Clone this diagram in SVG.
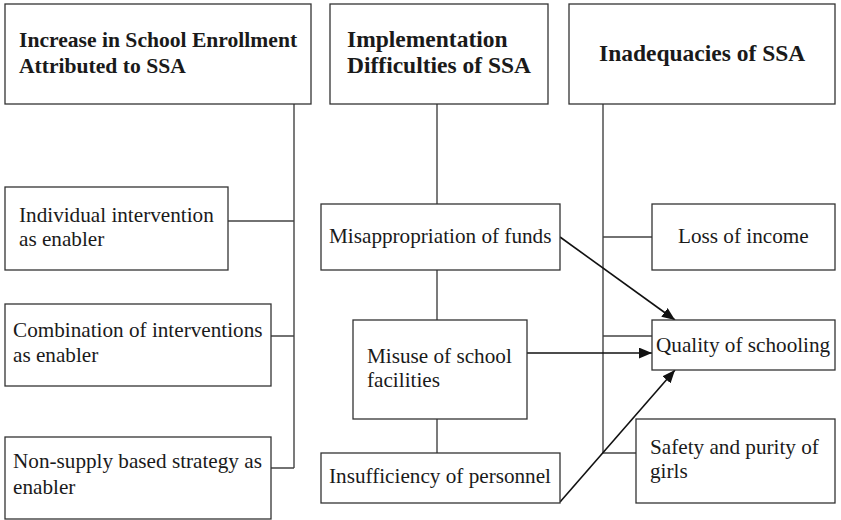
<svg xmlns="http://www.w3.org/2000/svg" width="841" height="520" viewBox="0 0 841 520">
<style>
.box{fill:#fff;stroke:#333;stroke-width:1.3}
.h{font-family:"Liberation Serif","Times New Roman",serif;font-weight:bold;font-size:23.5px;fill:#1a1a1a}
.h.s{font-size:21.6px}
.t{font-family:"Liberation Serif","Times New Roman",serif;font-size:21.2px;fill:#1a1a1a}
.ln{fill:none;stroke:#444;stroke-width:1.4}
.ar{fill:none;stroke:#111;stroke-width:1.6}
</style>
<defs>
<marker id="ah" viewBox="0 0 12 10" refX="12" refY="5" markerWidth="13" markerHeight="11" markerUnits="userSpaceOnUse" orient="auto">
<path d="M0,0 L12,5 L0,10 z" fill="#111"/>
</marker>
</defs>
<rect width="841" height="520" fill="#fff"/>
<g id="connectors">
<path class="ln" d="M294,104 V468 M228,221 H294 M271,336 H294 M271,468 H294"/>
<path class="ln" d="M437,104 V204 M437,270 V320 M437,419 V453"/>
<path class="ln" d="M603,104 V453 M603,237 H652 M603,336 H652 M603,453 H636"/>
<path class="ar" d="M560,237 L675,320" marker-end="url(#ah)"/>
<path class="ar" d="M527,353 L652,353" marker-end="url(#ah)"/>
<path class="ar" d="M560,502 L675,370" marker-end="url(#ah)"/>
</g>
<g id="h1"><rect class="box" x="5" y="4" width="306" height="100"/><text class="h s" x="19" y="47">Increase in School Enrollment</text><text class="h s" x="19" y="73">Attributed to SSA</text></g>
<g id="h2"><rect class="box" x="330" y="4" width="218" height="100"/><text class="h" x="347" y="47">Implementation</text><text class="h" x="347" y="73">Difficulties of SSA</text></g>
<g id="h3"><rect class="box" x="569" y="4" width="266" height="100"/><text class="h" x="599" y="61">Inadequacies of SSA</text></g>
<g id="n1"><rect class="box" x="5" y="187" width="223" height="83"/><text class="t" x="19" y="222">Individual intervention</text><text class="t" x="19" y="246">as enabler</text></g>
<g id="n2"><rect class="box" x="5" y="304" width="266" height="82"/><text class="t" x="13" y="337">Combination of interventions</text><text class="t" x="13" y="362">as enabler</text></g>
<g id="n3"><rect class="box" x="5" y="437" width="266" height="82"/><text class="t" x="13" y="468">Non-supply based strategy as</text><text class="t" x="13" y="494">enabler</text></g>
<g id="m1"><rect class="box" x="321" y="204" width="239" height="66"/><text class="t" x="329" y="243">Misappropriation of funds</text></g>
<g id="m2"><rect class="box" x="353" y="320" width="174" height="99"/><text class="t" x="367" y="363">Misuse of school</text><text class="t" x="367" y="387">facilities</text></g>
<g id="m3"><rect class="box" x="321" y="453" width="239" height="50"/><text class="t" x="329" y="483">Insufficiency of personnel</text></g>
<g id="r1"><rect class="box" x="652" y="204" width="183" height="66"/><text class="t" x="678" y="243">Loss of income</text></g>
<g id="r2"><rect class="box" x="652" y="320" width="183" height="50"/><text class="t" x="656" y="352">Quality of schooling</text></g>
<g id="r3"><rect class="box" x="636" y="419" width="199" height="84"/><text class="t" x="650" y="454">Safety and purity of</text><text class="t" x="650" y="478">girls</text></g>
</svg>
